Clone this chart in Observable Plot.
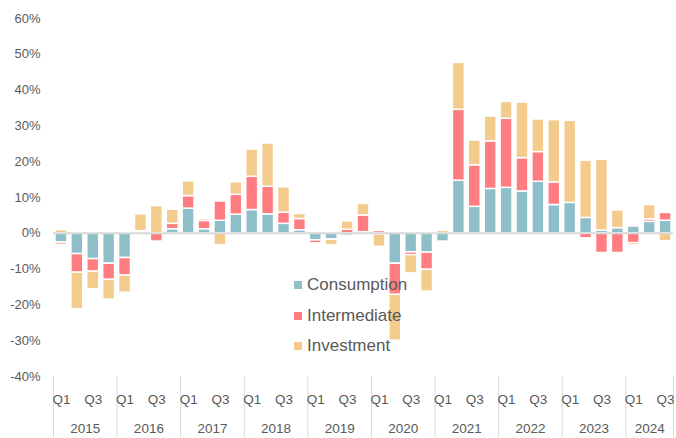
<!DOCTYPE html>
<html><head><meta charset="utf-8">
<script src="https://cdn.jsdelivr.net/npm/d3@7"></script>
<script src="https://cdn.jsdelivr.net/npm/@observablehq/plot@0.6"></script>
<style>
body{margin:0;background:#fff;font-family:"Liberation Sans",Arial,sans-serif}
#wrap{position:relative;width:676px;height:438px}
#legend{position:absolute;left:294px;top:270px;color:#595959;font-size:17px;z-index:2}
.row{display:flex;align-items:center;height:30.5px}
.sw{width:8px;height:8px;margin-right:5px}
</style></head><body>
<div id="wrap"></div>
<script>
const years = [2015, 2016, 2017, 2018, 2019, 2020, 2021, 2022, 2023, 2024];
const quarterNames = ["Q1", "Q2", "Q3", "Q4"];
const shownQuarterNames = ["Q1", "Q3"];
const series = ["Consumption", "Intermediate", "Investment"];
const colors = ["#8EBFC9", "#FF7C80", "#F2CB8D"];
const yTicks = [-40, -30, -20, -10, 0, 10, 20, 30, 40, 50, 60];

// 2015 Q1 ... 2024 Q3
const consumption = [
  -2.6, -5.8, -7.2, -8.5,
  -6.9, 0.3, 0.0, 1.15,
  6.9, 1.15, 3.5, 5.2,
  6.5, 5.3, 2.65, 0.85,
  -2.0, -1.7, -0.7, 0.3,
  -0.3, -8.5, -5.3, -5.4,
  -2.3, 14.7, 7.4, 12.4,
  12.7, 11.7, 14.4, 7.9,
  8.5, 4.3, 0.75, 1.45,
  1.9, 3.2, 3.5
];
const intermediate = [
  -0.6, -5.2, -3.5, -4.5,
  -4.9, 0.3, -2.3, 1.5,
  3.5, 2.3, 5.4, 5.55,
  9.3, 7.7, 3.1, 3.15,
  -0.8, -0.1, 1.0, 4.7,
  0.65, -8.7, -0.8, -4.8,
  0.0, 19.8, 11.6, 13.3,
  19.3, 9.3, 8.3, 6.3,
  -0.5, -1.4, -5.5, -5.5,
  -2.75, 0.7, 2.2
];
const investment = [
  0.9, -10.2, -4.9, -5.5,
  -4.8, 4.7, 7.6, 3.95,
  4.1, 0.55, -3.3, 3.5,
  7.6, 12.1, 7.1, 1.4,
  0.4, -1.5, 2.3, 3.2,
  -3.5, -12.8, -5.1, -6.1,
  0.7, 13.1, 6.9, 6.9,
  4.7, 15.5, 9.1, 17.4,
  22.9, 16.0, 19.8, 4.95,
  -0.65, 4.0, -2.2
];

const quarters = [];
years.forEach(y => quarterNames.forEach(q => {
  if (quarters.length < consumption.length) quarters.push(`${y} ${q}`);
}));
const valuesBySeries = [consumption, intermediate, investment];
const data = quarters.flatMap((q, i) => series.map((s, k) => ({q, s, v: valuesBySeries[k][i]})));

const W = 676, H = 438, ML = 53, MR = 3, MT = 18, MB = 62;
const step = (W - ML - MR) / quarters.length;
const firstQuarters = quarters.filter(q => q.endsWith("Q1"));
const labelQuarters = quarters.filter(q => shownQuarterNames.includes(q.slice(5)));
const lastYear = years[years.length - 1];
const fullYears = years.filter(y => y !== lastYear);

const chart = Plot.plot({
  width: W, height: H,
  marginLeft: ML, marginRight: MR, marginTop: MT, marginBottom: MB,
  style: {fontFamily: "Liberation Sans, Arial, sans-serif", fontSize: "13px", color: "#595959", background: "white"},
  x: {type: "band", domain: quarters, paddingInner: 0.25, paddingOuter: 0.125, axis: null, label: null},
  y: {domain: [-40, 60], ticks: yTicks, tickFormat: d => d + "%", tickSize: 0, tickPadding: 13, label: null},
  color: {domain: series, range: colors},
  marks: [
    Plot.barY(data, {x: "q", y: "v", fill: "s", stroke: "white", strokeWidth: 1.5}),
    Plot.ruleY([0], {stroke: "#D9D9D9", strokeWidth: 2}),
    Plot.axisX(firstQuarters, {tickSize: 61, tickFormat: () => "", dx: -step / 2, stroke: "#D9D9D9", label: null}),
    Plot.axisX([quarters[quarters.length - 1]], {tickSize: 61, tickFormat: () => "", dx: step / 2, stroke: "#D9D9D9", label: null}),
    Plot.text(labelQuarters, {x: d => d, text: d => d.slice(5), frameAnchor: "bottom", dy: 27, fill: "#595959", fontSize: 13.5}),
    Plot.text(fullYears, {x: y => `${y} Q2`, text: y => String(y), frameAnchor: "bottom", dy: 56, dx: step / 2, fill: "#595959", fontSize: 13.5}),
    Plot.text([lastYear], {x: y => `${y} Q2`, text: y => String(y), frameAnchor: "bottom", dy: 56, fill: "#595959", fontSize: 13.5})
  ]
});
const wrap = document.getElementById("wrap");
wrap.appendChild(chart);
const legend = document.createElement("div");
legend.id = "legend";
series.forEach((s, k) => {
  const row = document.createElement("div");
  row.className = "row";
  const sw = document.createElement("span");
  sw.className = "sw";
  sw.style.background = colors[k];
  const t = document.createElement("span");
  t.textContent = s;
  row.appendChild(sw); row.appendChild(t);
  legend.appendChild(row);
});
wrap.appendChild(legend);
</script>
</body></html>
